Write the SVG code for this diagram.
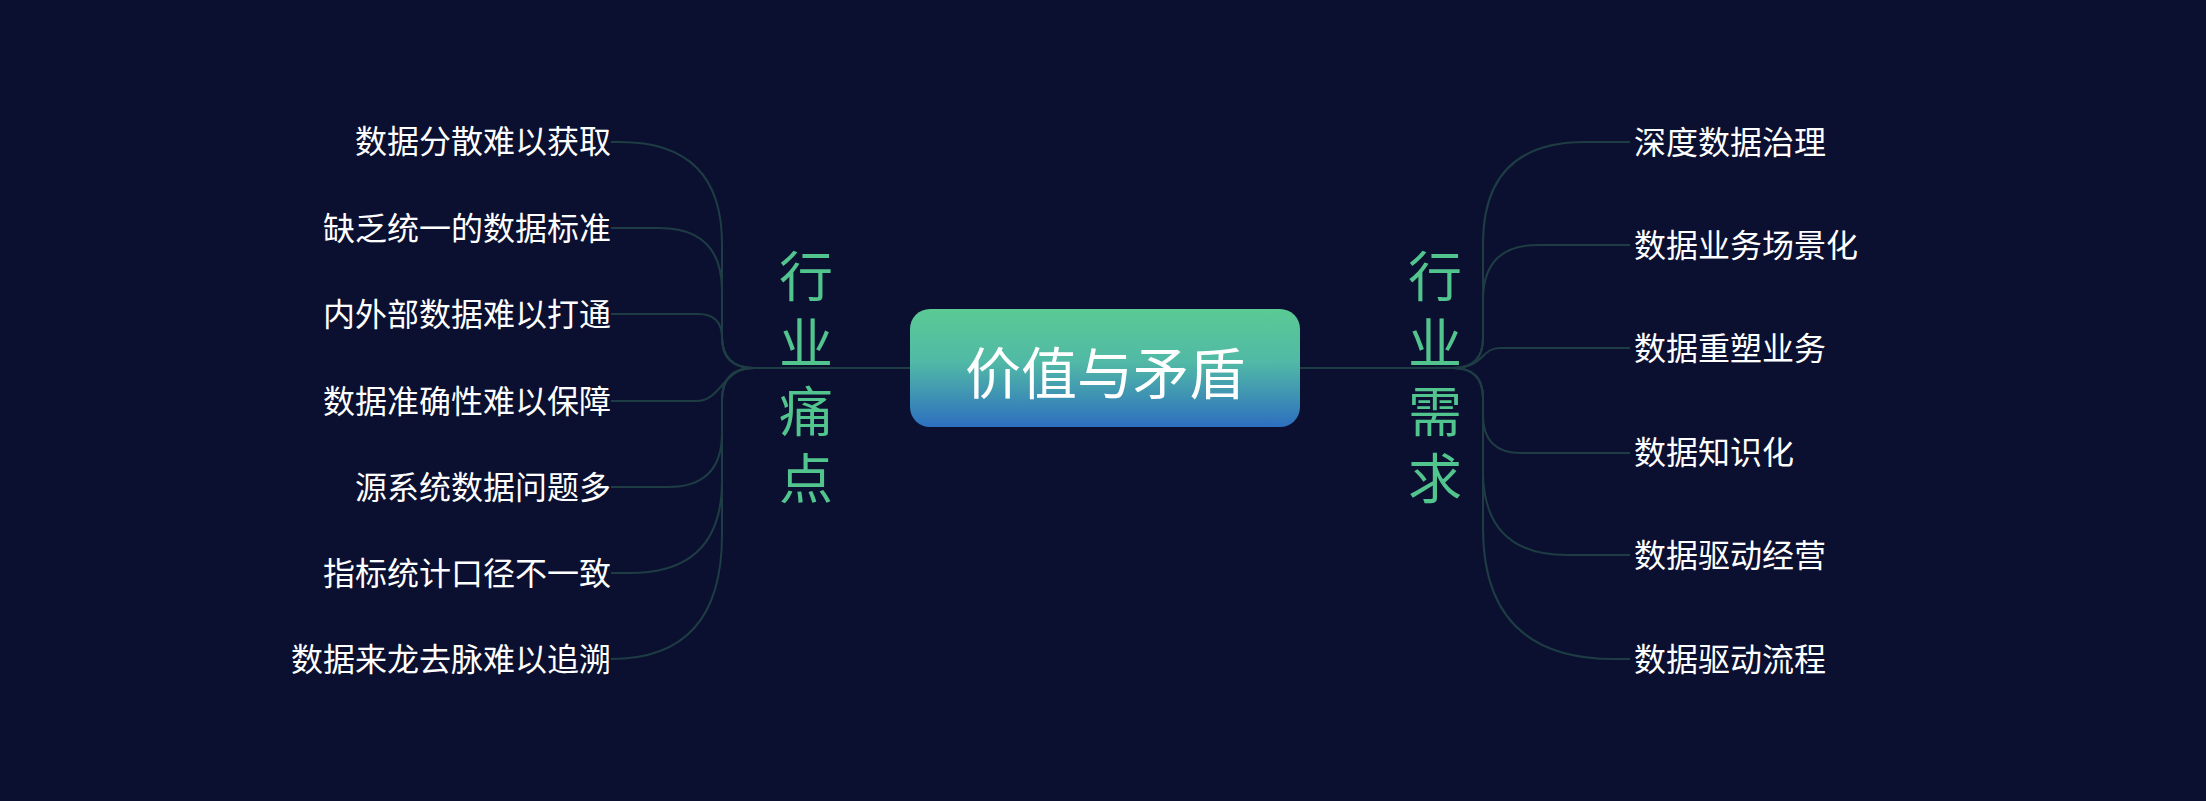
<svg xmlns="http://www.w3.org/2000/svg" width="2206" height="801" viewBox="0 0 2206 801">
<defs>
<linearGradient id="boxGrad" x1="0" y1="0" x2="0" y2="1">
<stop offset="0" stop-color="#5BCA94"/>
<stop offset="0.45" stop-color="#51B9A6"/>
<stop offset="1" stop-color="#2D6FBF"/>
</linearGradient>
<style>
.bg{fill:#0B1030}
.link{fill:none;stroke:#1E3C43;stroke-width:2}
.leaf{font-family:"Noto Sans CJK SC","Noto Sans",sans-serif;font-size:32px;fill:#FFFFFF}
.cat{font-family:"Noto Sans CJK SC","Noto Sans",sans-serif;font-size:54px;fill:#52C48E;writing-mode:vertical-rl;text-orientation:upright;letter-spacing:13.5px}
.root{font-family:"Noto Sans CJK SC","Noto Sans",sans-serif;font-size:56px;fill:#FFFFFF;text-anchor:middle}
.left{text-anchor:end}
</style>
</defs>
<rect class="bg" x="0" y="0" width="2206" height="801"/>
<g id="connectors">
<path class="link" d="M754 368 H910"/>
<path class="link" d="M1300 368 H1453"/>
<path class="link" d="M611 142 H620 Q722 142 722 244 V336 Q722 368 754 368"/>
<path class="link" d="M611 228 H659 Q722 228 722 291 V336 Q722 368 754 368"/>
<path class="link" d="M611 314 H698 Q722 314 722 338 Q722 368 754 368"/>
<path class="link" d="M611 401 H696 C722 401 722 368 754 368"/>
<path class="link" d="M611 487 H668 Q722 487 722 433 V400 Q722 368 754 368"/>
<path class="link" d="M611 573 H630 Q722 573 722 481 V400 Q722 368 754 368"/>
<path class="link" d="M611 659 Q722 659 722 535 V400 Q722 368 754 368"/>
<path class="link" d="M1630 142 H1585 Q1483 142 1483 244 V338 Q1483 368 1453 368"/>
<path class="link" d="M1630 245 H1538 Q1483 245 1483 300 V338 Q1483 368 1453 368"/>
<path class="link" d="M1630 348 H1500 C1480 348 1485 368 1453 368"/>
<path class="link" d="M1630 453 H1521 Q1483 453 1483 415 V398 Q1483 368 1453 368"/>
<path class="link" d="M1630 555 H1567 Q1483 555 1483 471 V398 Q1483 368 1453 368"/>
<path class="link" d="M1630 659 H1614 Q1483 659 1483 528 V398 Q1483 368 1453 368"/>
</g>
<g id="root">
<rect x="910" y="309" width="390" height="118" rx="20" ry="20" fill="url(#boxGrad)"/>
<text class="root" x="1105" y="394">价值与矛盾</text>
</g>
<g id="cat-left">
<text class="cat" x="806" y="249">行业痛点</text>
</g>
<g id="cat-right">
<text class="cat" x="1435" y="249">行业需求</text>
</g>
<g id="leaf-l1"><text class="leaf left" x="611" y="153">数据分散难以获取</text></g>
<g id="leaf-l2"><text class="leaf left" x="611" y="240">缺乏统一的数据标准</text></g>
<g id="leaf-l3"><text class="leaf left" x="611" y="326">内外部数据难以打通</text></g>
<g id="leaf-l4"><text class="leaf left" x="611" y="413">数据准确性难以保障</text></g>
<g id="leaf-l5"><text class="leaf left" x="611" y="499">源系统数据问题多</text></g>
<g id="leaf-l6"><text class="leaf left" x="611" y="585">指标统计口径不一致</text></g>
<g id="leaf-l7"><text class="leaf left" x="611" y="671">数据来龙去脉难以追溯</text></g>
<g id="leaf-r1"><text class="leaf" x="1634" y="154">深度数据治理</text></g>
<g id="leaf-r2"><text class="leaf" x="1634" y="257">数据业务场景化</text></g>
<g id="leaf-r3"><text class="leaf" x="1634" y="360">数据重塑业务</text></g>
<g id="leaf-r4"><text class="leaf" x="1634" y="464">数据知识化</text></g>
<g id="leaf-r5"><text class="leaf" x="1634" y="567">数据驱动经营</text></g>
<g id="leaf-r6"><text class="leaf" x="1634" y="671">数据驱动流程</text></g>
</svg>
